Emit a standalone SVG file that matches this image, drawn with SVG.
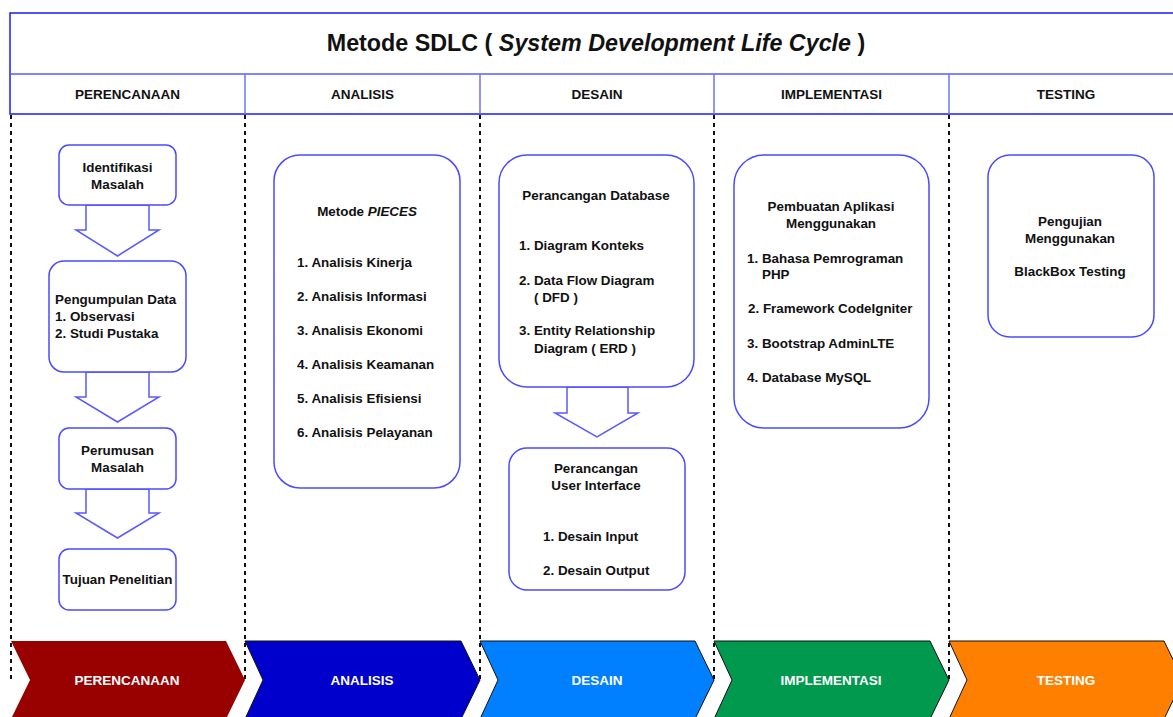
<svg xmlns="http://www.w3.org/2000/svg" width="1173" height="717" viewBox="0 0 1173 717">
<defs>
<style>
text{font-family:"Liberation Sans",Arial,sans-serif;font-weight:bold;fill:#111;}
.t{font-size:13.4px;}
.h{font-size:13.5px;text-anchor:middle;}
.c{text-anchor:middle;}
.box{fill:#fff;stroke:#4a4aff;stroke-width:1.5;}
.arr{fill:#fff;stroke:#5a5aff;stroke-width:1.5;stroke-linejoin:miter;}
.dash{stroke:#111;stroke-width:2;stroke-dasharray:4 4;fill:none;}
.chev{stroke:#111;stroke-width:1;}
.ct{font-size:13.5px;fill:#fff;text-anchor:middle;}
</style>
</defs>
<rect width="1173" height="717" fill="#fff"/>

<g id="header">
<rect x="10" y="13" width="1180" height="101" fill="#fff" stroke="#1a1aff" stroke-width="1.5"/>
<line x1="10" y1="74" x2="1190" y2="74" stroke="#5a5aff" stroke-width="1.5"/>
<line x1="245" y1="74" x2="245" y2="114" stroke="#7070ff" stroke-width="1.5"/>
<line x1="480" y1="74" x2="480" y2="114" stroke="#7070ff" stroke-width="1.5"/>
<line x1="714" y1="74" x2="714" y2="114" stroke="#7070ff" stroke-width="1.5"/>
<line x1="949" y1="74" x2="949" y2="114" stroke="#7070ff" stroke-width="1.5"/>
<text x="596" y="51" class="c" style="font-size:23.3px">Metode SDLC ( <tspan font-style="italic">System Development Life Cycle</tspan> )</text>
<text x="127.5" y="99" class="h">PERENCANAAN</text>
<text x="362.5" y="99" class="h">ANALISIS</text>
<text x="597" y="99" class="h">DESAIN</text>
<text x="831.5" y="99" class="h">IMPLEMENTASI</text>
<text x="1066" y="99" class="h">TESTING</text>
</g>

<g id="chevrons">
<g id="chev-perencanaan">
<polygon points="11,641 226,641 245,680 226,719 11,719 30,680" fill="#990000"/>
<text x="127" y="685" class="ct">PERENCANAAN</text>
</g>
<g id="chev-analisis">
<polygon class="chev" points="245,641 461,641 480,680 461,719 245,719 263,680" fill="#0000cc"/>
<text x="362" y="685" class="ct">ANALISIS</text>
</g>
<g id="chev-desain">
<polygon class="chev" points="480,641 695,641 714,680 695,719 480,719 498,680" fill="#007fff"/>
<text x="597" y="685" class="ct">DESAIN</text>
</g>
<g id="chev-implementasi">
<polygon class="chev" points="714,641 930,641 949,680 930,719 714,719 732,680" fill="#00994d"/>
<text x="831" y="685" class="ct">IMPLEMENTASI</text>
</g>
<g id="chev-testing">
<polygon class="chev" points="949,641 1164,641 1183,680 1164,719 949,719 967,680" fill="#ff8000"/>
<text x="1066" y="685" class="ct">TESTING</text>
</g>
</g>

<g id="lanes">
<line class="dash" x1="11" y1="115" x2="11" y2="682"/>
<line class="dash" x1="245" y1="115" x2="245" y2="682"/>
<line class="dash" x1="480" y1="115" x2="480" y2="682"/>
<line class="dash" x1="714" y1="115" x2="714" y2="682"/>
<line class="dash" x1="949" y1="115" x2="949" y2="682"/>
</g>

<g id="connectors">
<polygon class="arr" points="86,205 149,205 149,230 159,230 117.5,256 76,230 86,230"/>
<polygon class="arr" points="86,372 149,372 149,397 159,397 117.5,422 76,397 86,397"/>
<polygon class="arr" points="86,489 149,489 149,513 159,513 117.5,538 76,513 86,513"/>
<polygon class="arr" points="567,387 628,387 628,413 638,413 597,437 555,413 567,413"/>
</g>

<g id="identifikasi">
<rect class="box" x="59" y="145" width="117" height="60" rx="10"/>
<text class="t c" x="117.5" y="172">Identifikasi</text>
<text class="t c" x="117.5" y="189">Masalah</text>
</g>
<g id="pengumpulan">
<rect class="box" x="49" y="261" width="137" height="111" rx="15"/>
<text class="t" x="55" y="304">Pengumpulan Data</text>
<text class="t" x="55" y="321">1. Observasi</text>
<text class="t" x="55" y="338">2. Studi Pustaka</text>
</g>
<g id="perumusan">
<rect class="box" x="59" y="428" width="117" height="61" rx="10"/>
<text class="t c" x="117.5" y="455">Perumusan</text>
<text class="t c" x="117.5" y="472">Masalah</text>
</g>
<g id="tujuan">
<rect class="box" x="59" y="549" width="117" height="61" rx="10"/>
<text class="t c" x="117.5" y="584">Tujuan Penelitian</text>
</g>

<g id="pieces">
<rect class="box" x="274" y="155" width="186" height="333" rx="26"/>
<text class="t c" x="367" y="216">Metode <tspan font-style="italic">PIECES</tspan></text>
<text class="t" x="297" y="267">1. Analisis Kinerja</text>
<text class="t" x="297" y="301">2. Analisis Informasi</text>
<text class="t" x="297" y="335">3. Analisis Ekonomi</text>
<text class="t" x="297" y="369">4. Analisis Keamanan</text>
<text class="t" x="297" y="403">5. Analisis Efisiensi</text>
<text class="t" x="297" y="437">6. Analisis Pelayanan</text>
</g>

<g id="database">
<rect class="box" x="499" y="155" width="195" height="232" rx="28"/>
<text class="t c" x="596" y="200">Perancangan Database</text>
<text class="t" x="519" y="250">1. Diagram Konteks</text>
<text class="t" x="519" y="285">2. Data Flow Diagram</text>
<text class="t" x="534" y="302">( DFD )</text>
<text class="t" x="519" y="335">3. Entity Relationship</text>
<text class="t" x="534" y="353">Diagram ( ERD )</text>
</g>

<g id="ui">
<rect class="box" x="509" y="448" width="176" height="142" rx="18"/>
<text class="t c" x="596" y="473">Perancangan</text>
<text class="t c" x="596" y="490">User Interface</text>
<text class="t" x="543" y="541">1. Desain Input</text>
<text class="t" x="543" y="575">2. Desain Output</text>
</g>

<g id="implementasi">
<rect class="box" x="734" y="155" width="195" height="273" rx="30"/>
<text class="t c" x="831" y="211">Pembuatan Aplikasi</text>
<text class="t c" x="831" y="228">Menggunakan</text>
<text class="t" x="747" y="263">1. Bahasa Pemrograman</text>
<text class="t" x="762" y="279">PHP</text>
<text class="t" x="748" y="313">2. Framework CodeIgniter</text>
<text class="t" x="747" y="348">3. Bootstrap AdminLTE</text>
<text class="t" x="747" y="382">4. Database MySQL</text>
</g>

<g id="testing">
<rect class="box" x="988" y="155" width="166" height="182" rx="22"/>
<text class="t c" x="1070" y="226">Pengujian</text>
<text class="t c" x="1070" y="243">Menggunakan</text>
<text class="t c" x="1070" y="276">BlackBox Testing</text>
</g>
</svg>
